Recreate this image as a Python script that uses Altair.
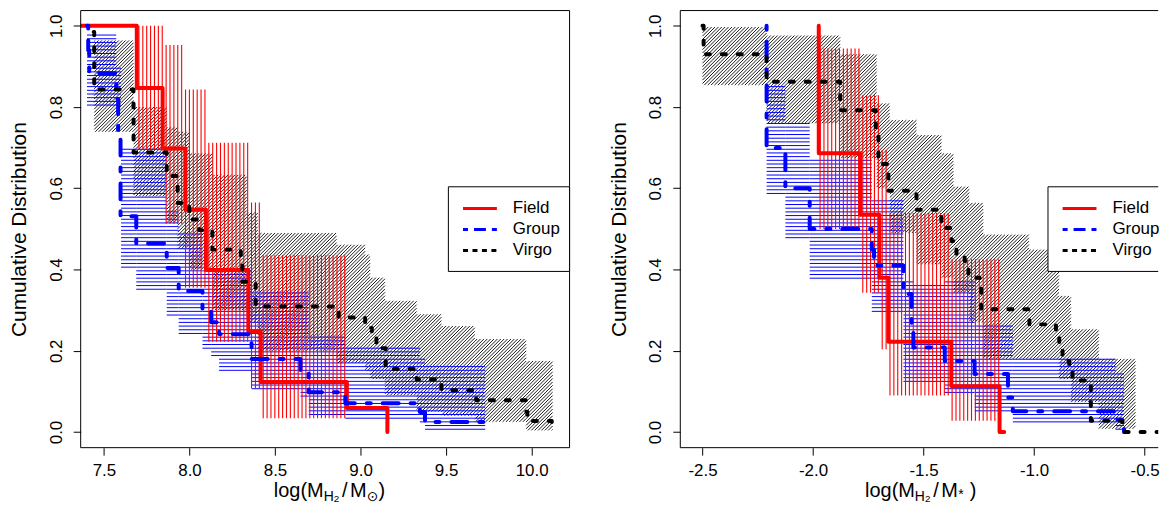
import math
import altair as alt
import pandas as pd

FONT = "Liberation Sans, Arial, Helvetica, sans-serif"
W_L, W_R, H = 491, 480, 439
YDOM = [-0.0385, 1.0375]
L_XDOM = [7.364, 10.222]
R_XDOM = [-2.6005, -0.4383]

# ---------------- Left panel: log(M_H2 / M_sun) ----------------
# step curves: x where each level starts, cumulative level
L_field_x = [7.364, 7.692, 7.843, 7.976, 8.096, 8.344, 8.416, 8.920, 9.157]
L_field_y = [1.0, 0.847, 0.698, 0.547, 0.399, 0.247, 0.123, 0.059, 0.0]
L_group_x = [7.401, 7.408, 7.414, 7.572, 7.583, 7.597, 7.689, 7.867, 7.937, 8.076,
             8.127, 8.173, 8.363, 8.649, 8.697, 8.911, 9.347, 9.377, 9.729]
L_group_y = [1.0, 0.94, 0.883, 0.82, 0.74, 0.531, 0.464, 0.404, 0.347, 0.30,
             0.27, 0.241, 0.18, 0.147, 0.098, 0.071, 0.049, 0.0245, 0.0]
L_virgo_x = [7.440, 7.443, 7.673, 7.867, 7.931, 7.999, 8.057, 8.134, 8.300, 8.309,
             8.387, 8.872, 9.027, 9.066, 9.093, 9.147, 9.328, 9.473, 9.668, 9.676,
             9.968, 9.975, 10.118, 10.129]
L_virgo_y = [0.985, 0.843, 0.688, 0.63, 0.564, 0.523, 0.497, 0.449, 0.425, 0.37,
             0.309, 0.282, 0.256, 0.23, 0.206, 0.155, 0.129, 0.103, 0.094, 0.078,
             0.05, 0.027, 0.013, 0.013]
# confidence bands: segment edges, lower and upper bounds
L_field_band_edges = [7.692, 7.843, 7.976, 8.096, 8.344, 8.416, 8.920]
L_field_band_lo = [0.694, 0.513, 0.355, 0.222, 0.108, 0.034]
L_field_band_hi = [1.0, 0.953, 0.843, 0.712, 0.565, 0.435]
L_group_band_edges = [7.401, 7.572, 7.600, 7.689, 7.867, 7.937, 8.076, 8.127, 8.173,
                      8.363, 8.649, 8.697, 8.911, 9.347, 9.377, 9.729]
L_group_band_lo = [0.797, 0.797, 0.40, 0.343, 0.286, 0.234, 0.20, 0.18, 0.143, 0.102,
                   0.08, 0.04, 0.03, 0.016, 0.003]
L_group_band_hi = [0.979, 0.903, 0.703, 0.703, 0.55, 0.49, 0.40, 0.40, 0.40, 0.35,
                   0.35, 0.237, 0.212, 0.18, 0.163]
L_virgo_band_edges = [7.443, 7.673, 7.867, 7.931, 7.999, 8.134, 8.335, 8.399, 8.860,
                      9.027, 9.056, 9.143, 9.328, 9.473, 9.668, 9.968, 10.123]
L_virgo_band_lo = [0.739, 0.58, 0.515, 0.45, 0.40, 0.30, 0.27, 0.20, 0.17, 0.15,
                   0.13, 0.09, 0.05, 0.04, 0.025, 0.004]
L_virgo_band_hi = [0.964, 0.80, 0.75, 0.739, 0.686, 0.633, 0.54, 0.49, 0.461, 0.437,
                   0.38, 0.323, 0.29, 0.261, 0.229, 0.175]

# ---------------- Right panel: log(M_H2 / M_*) ----------------
R_field_x = [-1.974, -1.974, -1.787, -1.700, -1.659, -1.374, -1.156, -1.135]
R_field_y = [1.0, 0.686, 0.535, 0.38, 0.222, 0.113, 0.0, 0.0]
R_group_x = [-2.210, -2.210, -2.125, -2.015, -1.734, -1.724, -1.591, -1.554, -1.546,
             -1.404, -1.269, -1.118, -1.096, -0.631, -0.593]
R_group_y = [1.0, 0.699, 0.60, 0.50, 0.449, 0.41, 0.34, 0.265, 0.208,
             0.175, 0.143, 0.085, 0.051, 0.03, 0.0]
R_virgo_x = [-2.5, -2.495, -2.210, -1.877, -1.716, -1.704, -1.659, -1.532, -1.419,
             -1.374, -1.351, -1.314, -1.297, -1.246, -1.239, -1.021, -0.901, -0.886,
             -0.871, -0.841, -0.826, -0.743, -0.600, -0.390]
R_virgo_y = [1.0, 0.93, 0.862, 0.792, 0.75, 0.66, 0.594, 0.547, 0.502,
             0.47, 0.437, 0.421, 0.38, 0.359, 0.302, 0.265, 0.245, 0.209,
             0.175, 0.159, 0.127, 0.028, 0.0, 0.0]
R_field_band_edges = [-1.974, -1.787, -1.700, -1.659, -1.374, -1.156]
R_field_band_lo = [0.50, 0.343, 0.204, 0.09, 0.028]
R_field_band_hi = [0.944, 0.829, 0.694, 0.539, 0.425]
R_group_band_edges = [-2.210, -2.125, -2.015, -1.734, -1.591, -1.546, -1.404, -1.269,
                      -1.096, -0.631, -0.593]
R_group_band_lo = [0.58, 0.474, 0.376, 0.294, 0.123, 0.12, 0.09, 0.05, 0.016, 0.0]
R_group_band_hi = [0.854, 0.76, 0.67, 0.572, 0.37, 0.368, 0.37, 0.261, 0.184, 0.15]
R_virgo_band_edges = [-2.5, -2.210, -1.877, -1.712, -1.653, -1.532, -1.419, -1.365,
                      -1.293, -1.230, -1.023, -0.887, -0.833, -0.707, -0.541]
R_virgo_band_lo = [0.854, 0.76, 0.674, 0.60, 0.49, 0.413, 0.38, 0.343, 0.27, 0.18,
                   0.18, 0.13, 0.074, 0.008]
R_virgo_band_hi = [0.997, 0.976, 0.93, 0.809, 0.768, 0.731, 0.686, 0.604, 0.564,
                   0.486, 0.449, 0.335, 0.253, 0.18]

SERIES = ["Field", "Group", "Virgo"]
COLORS = {"Field": "#FF0000", "Group": "#0000FF", "Virgo": "#000000"}
LINE_DASH = {"Group": [4, 12, 16, 12], "Virgo": [4, 12]}
LEG_DASH = {"Group": [5, 6, 12, 6], "Virgo": [5, 4.5]}
Y_TICKS = [0.0, 0.2, 0.4, 0.6, 0.8, 1.0]
L_TICKS = [7.5, 8.0, 8.5, 9.0, 9.5, 10.0]
R_TICKS = [-2.5, -2.0, -1.5, -1.0, -0.5]

ONE = pd.DataFrame({"a": [0]})


def steps_df(xs, ys):
    return pd.DataFrame({"x": xs, "y": ys, "i": list(range(len(xs)))})


def hatch(edges, lo, hi, xdom, width, kind, spacing):
    """Hatch lines (R polygon density style) filling each band segment."""
    ppx = width / (xdom[1] - xdom[0])
    ppy = H / (YDOM[1] - YDOM[0])
    rows = []
    for a, b, l, h in zip(edges[:-1], edges[1:], lo, hi):
        ua, ub = (a - xdom[0]) * ppx, (b - xdom[0]) * ppx
        va, vb = (l - YDOM[0]) * ppy, (h - YDOM[0]) * ppy
        if kind == "v":
            for k in range(math.ceil(ua / spacing), math.floor(ub / spacing) + 1):
                u = k * spacing
                rows.append((u, va, u, vb))
        elif kind == "h":
            for k in range(math.ceil(va / spacing), math.floor(vb / spacing) + 1):
                v = k * spacing
                rows.append((ua, v, ub, v))
        else:
            for k in range(math.ceil((ua - vb) / spacing), math.floor((ub - va) / spacing) + 1):
                c = k * spacing
                u0 = max(ua, va + c)
                u1 = min(ub, vb + c)
                if u1 - u0 > 0.3:
                    rows.append((u0, u0 - c, u1, u1 - c))
    df = pd.DataFrame(rows, columns=["u", "v", "u2", "v2"])
    return pd.DataFrame({
        "x": xdom[0] + df.u / ppx, "y": YDOM[0] + df.v / ppy,
        "x2": xdom[0] + df.u2 / ppx, "y2": YDOM[0] + df.v2 / ppy,
    }).round(5)


def deco_rule(x, x2, y, y2=None, **kw):
    enc = dict(x=alt.value(x), y=alt.value(y))
    if x2 is not None:
        enc["x2"] = alt.value(x2)
    if y2 is not None:
        enc["y2"] = alt.value(y2)
    return alt.Chart(ONE).mark_rule(**kw).encode(**enc)


def panel(xdom, width, xticks, label_expr, curves, bands, title_parts, right_edge):
    X = alt.X("x:Q", scale=alt.Scale(domain=xdom, nice=False, zero=False),
              axis=alt.Axis(values=xticks, labelExpr=label_expr, title=None, grid=False,
                            domain=False, tickSize=7.5, tickWidth=1, tickColor="black",
                            labelFontSize=17, labelFont=FONT, labelColor="black",
                            labelPadding=20.2, labelBaseline="alphabetic",
                            labelFlush=False, labelOverlap=False))
    Y = alt.Y("y:Q", scale=alt.Scale(domain=YDOM, nice=False, zero=False),
              axis=alt.Axis(values=Y_TICKS, format=".1f", title="Cumulative Distribution",
                            titleX=-55, titleY=H / 2, titleAngle=270, titleAlign="center",
                            titleBaseline="alphabetic", titleFontSize=21, titleFont=FONT,
                            titleFontWeight="normal", titleColor="black",
                            grid=False, domain=False, tickSize=7.5, tickWidth=1,
                            tickColor="black", labelFontSize=17, labelFont=FONT,
                            labelColor="black", labelAngle=270, labelAlign="center",
                            labelBaseline="alphabetic", labelPadding=12,
                            labelFlush=False, labelOverlap=False))
    layers = []
    # hatched confidence bands
    for (edges, lo, hi), kind, sp, color, sw in [
        (bands["Virgo"], "d", 3.4, "#000000", 0.9),
        (bands["Group"], "h", 3.7, "#0000FF", 1.0),
        (bands["Field"], "v", 3.9, "#FF0000", 1.1),
    ]:
        df = hatch(edges, lo, hi, xdom, width, kind, sp)
        layers.append(alt.Chart(df).mark_rule(color=color, strokeWidth=sw, clip=True).encode(
            x=X, y=Y, x2="x2:Q", y2="y2:Q"))
    # step curves
    for s in SERIES:
        xs, ys = curves[s]
        kw = dict(interpolate="step-after", color=COLORS[s], strokeWidth=4,
                  strokeCap="round", strokeJoin="round", clip=True)
        if s in LINE_DASH:
            kw["strokeDash"] = LINE_DASH[s]
        layers.append(alt.Chart(steps_df(xs, ys)).mark_line(**kw).encode(
            x=X, y=Y, order="i:Q"))
    # plot frame (box)
    fr = dict(color="black", strokeWidth=1)
    layers.append(deco_rule(0, width, 0, **fr))
    layers.append(deco_rule(0, width, H, **fr))
    layers.append(deco_rule(0, None, 0, H, **fr))
    if right_edge:
        layers.append(deco_rule(width, None, 0, H, **fr))
    # legend box
    lx0, lx1, ly0, ly1 = 369.3, width, 177, 262
    layers.append(alt.Chart(ONE).mark_rect(fill="white").encode(
        x=alt.value(lx0), x2=alt.value(lx1), y=alt.value(ly0), y2=alt.value(ly1)))
    layers.append(deco_rule(lx0, lx1, ly0, **fr))
    layers.append(deco_rule(lx0, lx1, ly1, **fr))
    layers.append(deco_rule(lx0, None, ly0, ly1, **fr))
    if right_edge:
        layers.append(deco_rule(lx1, None, ly0, ly1, **fr))
    for k, s in enumerate(SERIES):
        yy = 198.7 + 21.1 * k
        kw = dict(color=COLORS[s], strokeWidth=3)
        if s in LEG_DASH:
            kw["strokeDash"] = LEG_DASH[s]
        layers.append(deco_rule(384, 418, yy, **kw))
        layers.append(alt.Chart(ONE).mark_text(
            text=s, align="left", baseline="middle", fontSize=17, font=FONT,
            color="black").encode(x=alt.value(434), y=alt.value(yy)))
    # x-axis title with subscripts
    for txt, px, py, fs, font in title_parts:
        layers.append(alt.Chart(ONE).mark_text(
            text=txt, align="left", baseline="alphabetic", fontSize=fs, font=font,
            color="black").encode(x=alt.value(px), y=alt.value(py)))
    return alt.layer(*layers).properties(width=width, height=H)


B = 488.5
left_title = [
    ("log(M", 194.0, B, 20, FONT),
    ("H", 244.0, B + 4.0, 14, FONT),
    ("2", 254.1, B + 5.5, 9.8, FONT),
    ("/", 262.5, B, 20, FONT),
    ("M", 270.6, B, 20, FONT),
    ("\u2299", 287.3, B + 4.0, 14, "DejaVu Sans"),
    (")", 299.0, B, 20, FONT),
]
right_title = [
    ("log(M", 185.6, B, 20, FONT),
    ("H", 235.6, B + 4.0, 14, FONT),
    ("2", 245.7, B + 5.5, 9.8, FONT),
    ("/", 254.1, B, 20, FONT),
    ("M", 262.2, B, 20, FONT),
    ("*", 279.2, B + 2.0, 14, FONT),
    (")", 290.6, B, 20, FONT),
]

left = panel(
    L_XDOM, W_L, L_TICKS, "format(datum.value, '.1f')",
    {"Field": (L_field_x, L_field_y), "Group": (L_group_x, L_group_y),
     "Virgo": (L_virgo_x, L_virgo_y)},
    {"Field": (L_field_band_edges, L_field_band_lo, L_field_band_hi),
     "Group": (L_group_band_edges, L_group_band_lo, L_group_band_hi),
     "Virgo": (L_virgo_band_edges, L_virgo_band_lo, L_virgo_band_hi)},
    left_title, True)

right = panel(
    R_XDOM, W_R, R_TICKS, "replace(format(datum.value, '.1f'), '\\u2212', '-')",
    {"Field": (R_field_x, R_field_y), "Group": (R_group_x, R_group_y),
     "Virgo": (R_virgo_x, R_virgo_y)},
    {"Field": (R_field_band_edges, R_field_band_lo, R_field_band_hi),
     "Group": (R_group_band_edges, R_group_band_lo, R_group_band_hi),
     "Virgo": (R_virgo_band_edges, R_virgo_band_lo, R_virgo_band_hi)},
    right_title, False)

chart = alt.hconcat(left, right, spacing=38.2).properties(
    padding={"left": 1, "top": 0.5, "right": 0, "bottom": -2.1},
    background="white",
).configure_view(strokeWidth=0)

chart.save("out.html", embed_options={"renderer": "svg", "actions": False})
